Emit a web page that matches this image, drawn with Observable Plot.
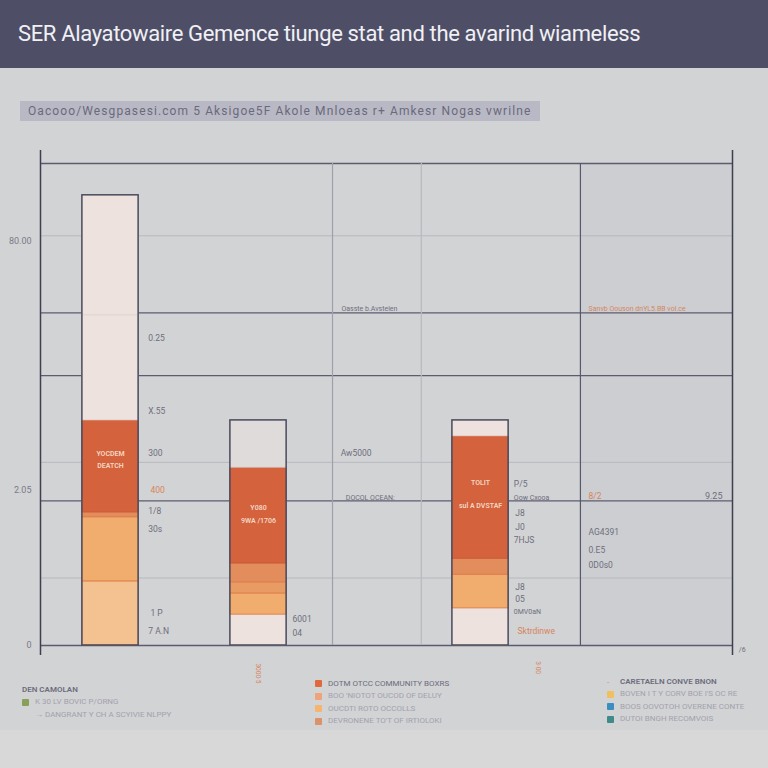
<!DOCTYPE html>
<html><head><meta charset="utf-8">
<script src="https://cdn.jsdelivr.net/npm/d3@7"></script>
<script src="https://cdn.jsdelivr.net/npm/@observablehq/plot@0.6"></script>
<style>
body{margin:0;width:768px;height:768px;background:#d2d3d5;font-family:Roboto,"Liberation Sans",sans-serif;position:relative;overflow:hidden}
#hdr{position:absolute;left:0;top:0;width:768px;height:68px;background:#4e4f67}
#hdr h1{margin:0;position:absolute;left:18px;top:21px;font-weight:400;font-size:22px;color:#f0f0f5;letter-spacing:-0.35px;white-space:nowrap}
#sub{position:absolute;left:20px;top:101px;width:520px;height:20px;background:#b9b9c5;color:#6a6a7c;font-size:12px;line-height:20px;padding-left:8px;box-sizing:border-box;white-space:nowrap;overflow:hidden;letter-spacing:1.1px}
#chart{position:absolute;left:0;top:140px}
#foot{position:absolute;left:0;top:730px;width:768px;height:38px;background:#d8d8d9}
.leg{position:absolute;font-size:8px;color:#a2a2ad;white-space:nowrap;line-height:10px}
.leg .it{display:flex;align-items:center;height:11px;margin-bottom:1.5px}
.leg .sw{display:inline-block;width:7px;height:7px;margin-right:6px;border-radius:1px}
.leg .hd{color:#6c6c7c;font-weight:600}
</style></head>
<body>
<div id="hdr"><h1 id="title"></h1></div>
<div id="sub"></div>
<div id="chart"></div>
<div id="foot"></div>
<div class="leg" id="legL" style="left:22px;top:684px"></div>
<div class="leg" id="legM" style="left:315px;top:678px"></div>
<div class="leg" id="legR" style="left:607px;top:676px"></div>
<script>
// ---- text ----
const titleText = "SER Alayatowaire Gemence tiunge stat  and the avarind wiameless";
const subtitleText = "Oacooo/Wesgpasesi.com 5 Aksigoe5F  Akole  Mnloeas   r+ Amkesr Nogas vwrilne";

// ---- bars ----
const barSlots = [1, 3, 6];
const barSeg1 = [13.3, 13.3, 1.0, 19.1, 21.8, 24.9];
const barSeg2 = [6.4, 4.4, 2.3, 3.9, 19.9, 9.8];
const barSeg3 = [7.7, 7.0, 3.3, 25.4, 3.3];
const barKey1 = ["peach", "orange", "mid", "dark", "pale", "pale"];
const barKey2 = ["pale", "orange", "mid2", "mid", "dark", "grey"];
const barKey3 = ["pale", "orange", "mid", "dark", "pale"];
const segColors = {pale: "#eee2de", peach: "#f4c291", orange: "#f0ad6d", mid: "#e48d5c", mid2: "#e99b64", dark: "#d4623c", grey: "#dedbda"};
const segEdge = {pale: "#e2d2cc", peach: "#e0773f", orange: "#e0773f", mid: "#dd7a4c", mid2: "#dd7a4c", dark: "#c95733", grey: "#d8cfcc"};

// inner bar labels
const innerSlot = [1, 1, 3, 3, 6, 6];
const innerY = [39.8, 37.3, 28.6, 25.9, 33.8, 29.0];
const innerText = ["YOCDEM", "DEATCH", "Y080", "9WA /1706", "TOLIT", "sul A DVSTAF"];

// ---- grid ----
const hGridVals = [100, 85, 69, 56, 38, 30, 14, 0];
const hGridDark = [true, false, true, true, false, true, false, true];
const vGridVals = [4.0, 5.2, 7.35];
const vGridTone = ["#9fa0aa", "#b9bac0", "#57586c"];
const xMin = 0.054, xMax = 9.405;
const panelRange = [7.35, 9.405];

// ---- y ticks ----
const yTickVals = [84, 32.2, 0];
const yTickLabels = ["80.00", "2.05", "0"];

// ---- annotations ----
const annX = [1.51, 1.51, 1.51, 1.54, 1.51, 1.51, 1.54, 1.51, 4.12, 4.11, 4.18, 3.46, 3.46, 7.46, 6.45, 6.45, 6.47, 6.47, 6.45, 6.47, 6.47, 6.45, 6.5, 7.46, 7.46, 7.46, 7.46, 9.49];
const annY = [63.7, 48.5, 39.8, 32.2, 27.8, 24.1, 6.6, 2.9, 69.9, 39.8, 30.7, 5.4, 2.5, 69.9, 33.4, 30.7, 27.4, 24.5, 21.8, 12.0, 9.5, 7.1, 2.9, 30.9, 23.4, 19.7, 16.6, -0.8];
const annText = ["0.25", "X.55", "300", "400", "1/8", "30s", "1 P", "7 A.N", "Oasste b.Avstelen", "Aw5000", "DOCOL OCEAN:", "6001", "04", "Sanvb Oouson dnYL5.BB vol.ce", "P/5", "Oow Cxooa", "J8", "J0", "7HJS", "J8", "05", "0MV0aN", "Sktrdinwe", "8/2", "AG4391", "0.E5", "0D0s0", "/6"];
const annOrange = [3, 13, 22, 23];
const annSmall = [8, 10, 13, 15, 21, 27];
const rightLabelText = "9.25";
const rightLabelY = 30.9;

const rotSlots = [3, 6.78];
const rotY = [-5.8, -4.6];
const rotText = ["3000·5", "3·00"];

// ---- legend ----
const legLeftHead = "DEN CAMOLAN";
const legLeftItems = ["K 30 LV BOVIC P/ORNG", "→ DANGRANT Y CH A SCYIVIE NLPPY"];
const legLeftColors = ["#8aa05a", "transparent"];
const legMidItems = ["DOTM OTCC COMMUNITY BOXRS", "BOO 'NIOTOT OUCOD OF DELUY", "OUCDTI ROTO OCCOLLS", "DEVRONENE TO'T OF IRTIOLOKI"];
const legMidColors = ["#e0683c", "#f0a27a", "#f5b56f", "#d9926a"];
const legRightHead = "CARETAELN CONVE BNON";
const legRightItems = ["BOVEN I T Y CORV BOE I'S OC RE", "BOOS OOVOTOH OVERENE CONTE", "DUTOI BNGH RECOMVOIS"];
const legRightColors = ["#f0c060", "#3b8fbf", "#3f8a8a"];

document.getElementById("title").textContent = titleText;
document.getElementById("sub").textContent = subtitleText;

// build tables
const segRows = [];
[[barSeg1, barKey1], [barSeg2, barKey2], [barSeg3, barKey3]].forEach(([vals, keys], i) => {
  let acc = 0;
  vals.forEach((v, j) => {
    segRows.push({slot: barSlots[i], y1: acc, y2: acc + v, fill: segColors[keys[j]], edge: segEdge[keys[j]]});
    acc += v;
  });
});
const totals = [barSeg1, barSeg2, barSeg3].map(a => d3.sum(a));
const halfW = 0.38;
const outline = barSlots.map((s, i) => ({slot: s, total: totals[i]}));
const hGrid = hGridVals.map((v, i) => ({v, dark: hGridDark[i]}));
const vGrid = vGridVals.map((v, i) => ({v, c: vGridTone[i]}));
const ann = annX.map((x, i) => ({x, y: annY[i], t: annText[i], orange: annOrange.includes(i), small: annSmall.includes(i)}));
const inner = innerSlot.map((s, i) => ({x: s, y: innerY[i], t: innerText[i]}));
const rot = rotSlots.map((s, i) => ({x: s, y: rotY[i], t: rotText[i]}));

const chart = Plot.plot({
  width: 768, height: 560,
  marginLeft: 40, marginRight: 36, marginTop: 23, marginBottom: 55,
  x: {domain: [xMin, xMax], axis: null},
  y: {domain: [0, 100], axis: null},
  style: {background: "transparent", fontFamily: "Roboto, 'Liberation Sans', sans-serif"},
  marks: [
    Plot.rect([panelRange], {x1: d => d[0], x2: d => d[1], y1: 0, y2: 100, fill: "#c9cacd", fillOpacity: 0.55}),
    Plot.ruleY(hGrid, {y: "v", x1: xMin, x2: xMax, stroke: d => d.dark ? "#5b5c70" : "#b7b8be", strokeWidth: d => d.dark ? 1.3 : 1}),
    Plot.ruleX(vGrid, {x: "v", y1: 0, y2: 100, stroke: "c", strokeWidth: 1.2}),
    Plot.ruleX([xMin, xMax], {y1: -2.1, y2: 102.7, stroke: "#3e3f52", strokeWidth: 1.5}),
    Plot.rect(segRows, {x1: d => d.slot - halfW, x2: d => d.slot + halfW, y1: "y1", y2: "y2", fill: "fill", stroke: "edge", strokeWidth: 0.8}),
    Plot.rect(outline, {x1: d => d.slot - halfW, x2: d => d.slot + halfW, y1: 0, y2: "total", fill: "none", stroke: "#4a4b5e", strokeWidth: 1.5}),
    Plot.axisY({ticks: yTickVals, tickFormat: d => yTickLabels[yTickVals.indexOf(d)], tickSize: 0, tickPadding: 9, fontSize: 9, color: "#7a7a86"}),
    Plot.text(inner, {x: "x", y: "y", text: "t", fill: "#f4d6c3", fontSize: 7, fontWeight: 600}),
    Plot.text(ann, {x: "x", y: "y", text: "t", textAnchor: "start", fill: d => d.orange ? "#d8845c" : "#6e6e7c", fontSize: d => d.small ? 7 : 8.5}),
    Plot.text([rightLabelText], {x: xMax, y: rightLabelY, text: d => d, textAnchor: "end", dx: -10, fill: "#6e6e7c", fontSize: 9}),
    Plot.text(rot, {x: "x", y: "y", text: "t", rotate: 90, fill: "#d8845c", fontSize: 6.5})
  ]
});
document.getElementById("chart").appendChild(chart);

// legends
function legend(el, head, items, colors, small) {
  let h = "";
  if (head) h += `<div class="it hd">${small ? '<span class="sw" style="background:transparent;color:#e59a6a;width:7px;height:7px;font-size:7px">-</span>' : ''}${head}</div>`;
  items.forEach((t, i) => {
    h += `<div class="it"><span class="sw" style="background:${colors[i]}"></span>${t}</div>`;
  });
  document.getElementById(el).innerHTML = h;
}
legend("legL", legLeftHead, legLeftItems, legLeftColors, false);
legend("legM", null, legMidItems, legMidColors, false);
legend("legR", legRightHead, legRightItems, legRightColors, true);
document.querySelector("#legM .it").style.color = "#6c6c7c";
</script>
</body></html>
